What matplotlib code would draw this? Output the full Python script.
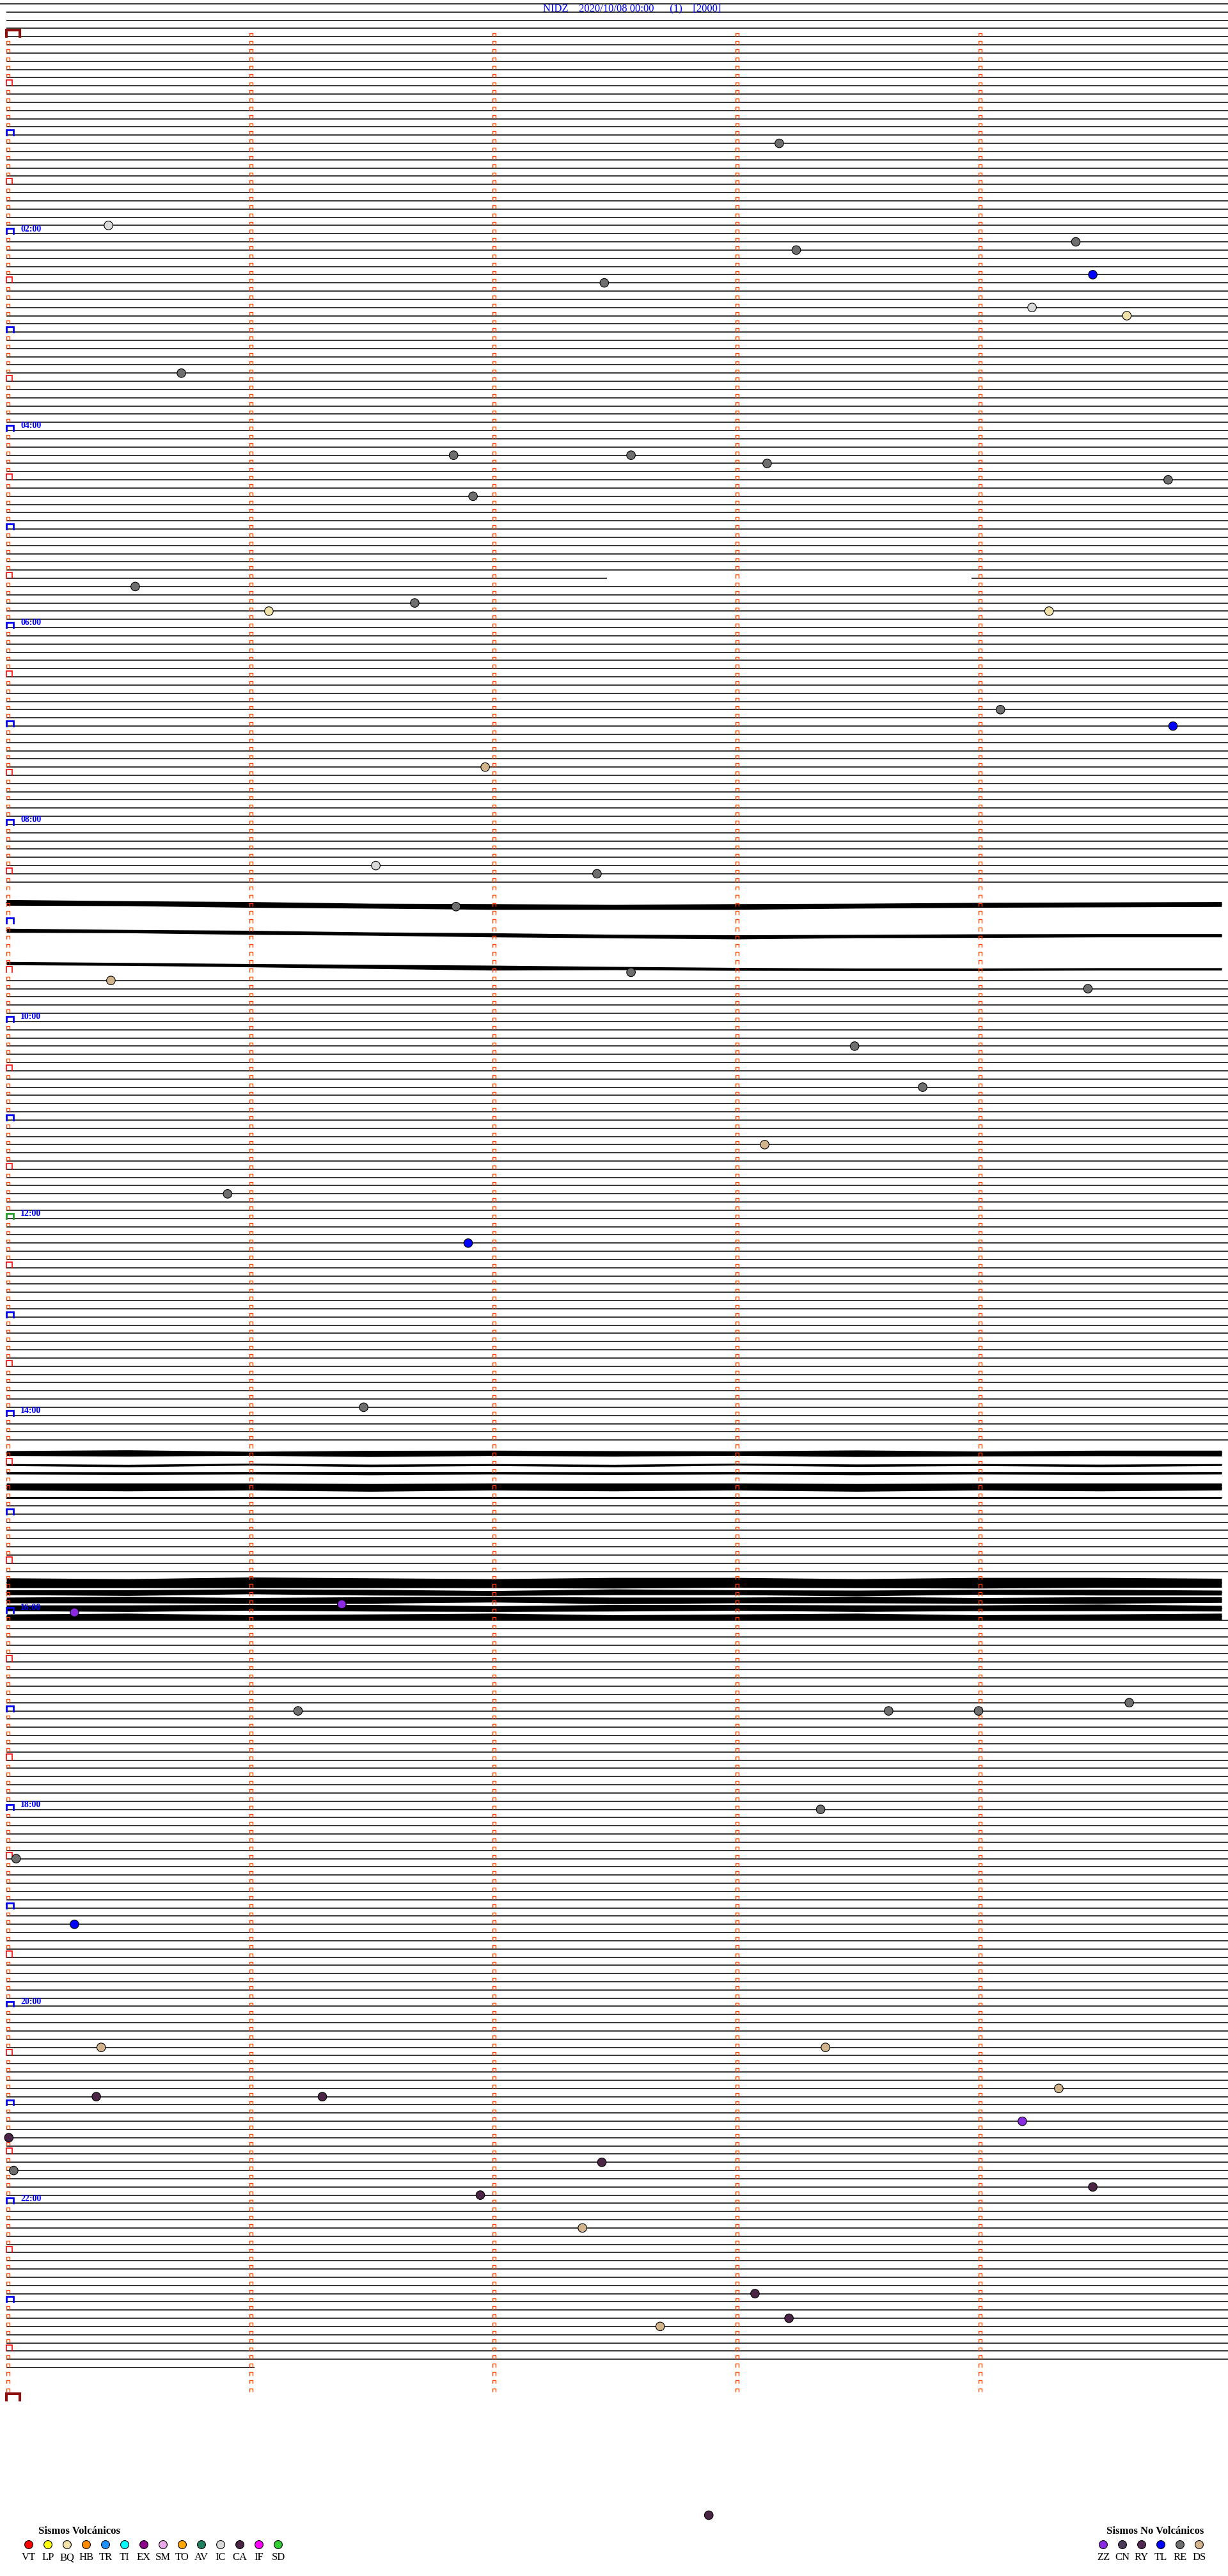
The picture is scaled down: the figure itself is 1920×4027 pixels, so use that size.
import numpy as np
import matplotlib
matplotlib.use("Agg")
import matplotlib.pyplot as plt
from matplotlib.collections import LineCollection

W, H, DPI = 1920, 4027, 100

# helicorder layout: 5 minutes per row, 288 rows per day
MIN_PER_ROW = 5
N_ROWS = 288
X0_PX, PX_PER_MIN = 10, 380
Y0_PX, PX_PER_ROW = 57.3, 12.83

title = "NIDZ    2020/10/08 00:00      (1)    [2000]"

# rows of the previous record still visible at the top
pre_rows = [-4, -3, -2, -1]
# last sample of the day (minutes after 00:00)
data_end = 1421.02
# gaps in the record (start, end) in minutes
gaps = [(332.47, 333.97)]

# noisy rows: offset of the trace centre and half amplitude (rows) at these knots
knots = [0, 0.5, 1, 1.5, 2, 2.5, 3, 3.5, 4, 4.5, 5]
noisy_rows = [105, 109, 113,
              172, 173, 174, 175, 176, 177, 178,
              188, 189, 190, 191, 192]
noisy_center = [
    [0.5, 0.6, 0.75, 0.9, 1.0, 1.05, 1.0, 0.9, 0.8, 0.75, 0.7],
    [-0.1, 0.0, 0.15, 0.3, 0.45, 0.6, 0.7, 0.6, 0.55, 0.5, 0.5],
    [-0.1, 0.0, 0.15, 0.3, 0.45, 0.5, 0.6, 0.65, 0.65, 0.6, 0.6],
    [0.55, 0.5, 0.6, 0.55, 0.5, 0.6, 0.55, 0.5, 0.6, 0.55, 0.5],
    [-0.3, -0.25, -0.3, -0.2, -0.3, -0.25, -0.3, -0.2, -0.25, -0.3, -0.25],
    [0.0, 0.12, -0.05, 0.1, 0.0, 0.12, -0.05, 0.08, 0.0, 0.1, 0.0],
    [0.0, 0.05, 0.0, 0.05, 0.0, 0.05, 0.0, 0.05, 0.0, 0.05, 0.0],
    [0.5, 0.55, 0.5, 0.6, 0.5, 0.55, 0.5, 0.6, 0.5, 0.55, 0.5],
    [-0.1, -0.05, -0.1, 0.0, -0.1, -0.05, -0.1, 0.0, -0.1, -0.05, -0.1],
    [0.0, 0.0, 0.0, 0.0, 0.0, 0.0, 0.0, 0.0, 0.0, 0.0, 0.0],
    [0.4, 0.45, 0.35, 0.4, 0.45, 0.4, 0.35, 0.45, 0.4, 0.35, 0.4],
    [0.55, 0.6, 0.45, 0.55, 0.65, 0.5, 0.55, 0.65, 0.5, 0.55, 0.6],
    [0.5, 0.45, 0.55, 0.5, 0.4, 0.55, 0.5, 0.45, 0.55, 0.5, 0.45],
    [0.45, 0.5, 0.4, 0.45, 0.55, 0.45, 0.4, 0.5, 0.45, 0.4, 0.5],
    [0.55, 0.5, 0.6, 0.55, 0.5, 0.6, 0.55, 0.5, 0.6, 0.55, 0.5],
]
noisy_half = [
    [0.35, 0.3, 0.35, 0.3, 0.35, 0.3, 0.35, 0.3, 0.3, 0.3, 0.3],
    [0.25, 0.2, 0.25, 0.2, 0.25, 0.22, 0.25, 0.2, 0.22, 0.2, 0.2],
    [0.2, 0.18, 0.2, 0.25, 0.3, 0.2, 0.18, 0.15, 0.15, 0.15, 0.15],
    [0.25, 0.3, 0.22, 0.28, 0.25, 0.3, 0.22, 0.28, 0.25, 0.3, 0.25],
    [0.2, 0.22, 0.18, 0.22, 0.2, 0.22, 0.18, 0.22, 0.2, 0.22, 0.2],
    [0.12, 0.15, 0.12, 0.15, 0.12, 0.15, 0.12, 0.15, 0.12, 0.15, 0.12],
    [0.15, 0.18, 0.15, 0.2, 0.15, 0.18, 0.15, 0.2, 0.15, 0.18, 0.15],
    [0.25, 0.3, 0.25, 0.3, 0.25, 0.3, 0.25, 0.3, 0.25, 0.3, 0.25],
    [0.2, 0.25, 0.2, 0.25, 0.2, 0.25, 0.2, 0.25, 0.2, 0.25, 0.2],
    [0.12, 0.12, 0.12, 0.12, 0.12, 0.12, 0.12, 0.12, 0.12, 0.12, 0.12],
    [0.6, 0.55, 0.65, 0.6, 0.55, 0.65, 0.6, 0.55, 0.65, 0.6, 0.55],
    [0.3, 0.35, 0.3, 0.35, 0.3, 0.35, 0.3, 0.35, 0.3, 0.35, 0.3],
    [0.35, 0.4, 0.35, 0.4, 0.35, 0.4, 0.35, 0.4, 0.35, 0.4, 0.35],
    [0.35, 0.4, 0.35, 0.4, 0.35, 0.4, 0.35, 0.4, 0.35, 0.4, 0.35],
    [0.35, 0.4, 0.3, 0.35, 0.4, 0.3, 0.35, 0.4, 0.3, 0.35, 0.4],
]
# rows whose trace is pushed out of view
hidden_rows = [104, 106, 107, 108, 110, 111, 112, 114]

# event classes
volc_codes = ["VT", "LP", "BQ", "HB", "TR", "TI", "EX", "SM", "TO", "AV", "IC", "CA", "IF", "SD"]
volc_colors = ["#FF0000", "#FFFF00", "#F0E2A8", "#FF8C00", "#1E90FF", "#00FFFF", "#8B008B",
               "#E8A8E8", "#FFA500", "#1E7F5F", "#D9D9D9", "#4A2545", "#FF00FF", "#32CD32"]
nonv_codes = ["ZZ", "CN", "RY", "TL", "RE", "DS"]
nonv_colors = ["#8A2BE2", "#4B3A5A", "#502A50", "#0000FF", "#6E6E6E", "#D2B48C"]

# picked events: minutes after 00:00 and class
event_min = [68.18, 115.42, 129.40, 133.25, 149.47, 152.46, 169.22, 174.61, 205.72, 256.84,
             257.57, 263.13, 274.78, 281.92, 335.53, 346.68, 351.08, 354.29, 414.09, 424.80,
             446.97, 506.52, 512.43, 531.85, 572.57, 575.43, 584.45, 618.49, 643.77, 678.12,
             705.91, 736.90, 836.47, 956.38, 960.28, 1019.62, 1021.20, 1023.63, 1024.00, 1083.35,
             1110.04, 1150.28, 1225.39, 1228.37, 1254.33, 1255.37, 1256.30, 1274.18, 1280.01, 1297.45,
             1300.03, 1314.47, 1316.95, 1337.37, 1378.08, 1393.22, 1397.69, 1512.89]
event_type = ["RE", "IC", "RE", "RE", "TL", "RE", "IC", "BQ", "RE", "RE",
              "RE", "RE", "RE", "RE", "RE", "RE", "BQ", "BQ", "RE", "TL",
              "DS", "IC", "RE", "RE", "RE", "DS", "RE", "RE", "RE", "DS",
              "RE", "TL", "RE", "ZZ", "ZZ", "RE", "RE", "RE", "RE", "RE",
              "RE", "TL", "DS", "DS", "DS", "CA", "CA", "ZZ", "CA", "CA",
              "RE", "CA", "CA", "DS", "CA", "CA", "DS", "CA"]

color_of = dict(zip(volc_codes + nonv_codes, volc_colors + nonv_colors))

fig = plt.figure(figsize=(W / DPI, H / DPI), dpi=DPI)
ax = fig.add_axes([0, 0, 1, 1])
ax.set_xlim(-X0_PX / PX_PER_MIN, (W - X0_PX) / PX_PER_MIN)
ax.set_ylim((H - Y0_PX) / PX_PER_ROW, -Y0_PX / PX_PER_ROW)
ax.axis("off")
xmin, xmax = ax.get_xlim()
serif = ["Liberation Serif", "DejaVu Serif"]

# flat traces
segs = []
for k in pre_rows:
    segs.append([(xmin if k == pre_rows[0] else 0, k), (xmax, k)])
for k in range(N_ROWS):
    if k in noisy_rows or k in hidden_rows:
        continue
    t0 = k * MIN_PER_ROW
    if t0 >= data_end:
        break
    pieces = [(t0, min(t0 + xmax, data_end))]
    for g0, g1 in gaps:
        out = []
        for a, b in pieces:
            if g1 <= a or g0 >= b:
                out.append((a, b))
            else:
                if g0 > a:
                    out.append((a, g0))
                if g1 < b:
                    out.append((g1, b))
        pieces = out
    for a, b in pieces:
        segs.append([(a - t0, k), (b - t0, k)])
ax.add_collection(LineCollection(segs, colors="black", linewidths=1.1))

# noisy traces
for k, c, h in zip(noisy_rows, noisy_center, noisy_half):
    c = np.array(c)
    h = np.array(h)
    ax.fill_between(knots, k + c - h, k + c + h, color="black", lw=0)
    ax.plot(knots, k + c, color="black", lw=1.0)

# minute ticks on every row
tick_segs = []
for k in range(N_ROWS):
    for m in range(MIN_PER_ROW):
        if m == 0 and (k % 6 == 0):
            continue
        x0, x1 = m, m + 5 / PX_PER_MIN
        tick_segs.append([(x0, k - 0.02), (x0, k - 0.45), (x1, k - 0.45), (x1, k - 0.02)])
ax.add_collection(LineCollection(tick_segs, colors="#FF4500", linewidths=1.0, zorder=3))

# half-hour, hour and day marks
for k in range(0, N_ROWS + 1, 6):
    if k % N_ROWS == 0:
        col, lw, w, hgt = "#8B1010", 3.0, 21, 0.78
    elif k == 144:
        col, lw, w, hgt = "#20A020", 2.0, 11, 0.62
    elif k % 12 == 0:
        col, lw, w, hgt = "#0000FF", 2.0, 11, 0.62
    else:
        col, lw, w, hgt = "#FF0000", 1.2, 9, 0.72
    x0, x1 = 0, w / PX_PER_MIN
    ax.plot([x0, x0, x1, x1], [k, k - hgt, k - hgt, k], color=col, lw=lw,
            solid_joinstyle="miter", zorder=4)
    if k % 24 == 0 and 0 < k < N_ROWS:
        ax.text(22 / PX_PER_MIN, k - 0.05, "%02d:00" % (k // 12), color="#0000FF",
                fontsize=10, fontweight="bold", family=serif, va="bottom", ha="left", zorder=4)

# events
ev_k = [int(t // MIN_PER_ROW) for t in event_min]
ev_m = [t - MIN_PER_ROW * kk for t, kk in zip(event_min, ev_k)]
ax.scatter(ev_m, ev_k, s=95, c=[color_of[e] for e in event_type],
           edgecolors="black", linewidths=0.8, zorder=5)

# title
fig.text(988 / W, 1 - 13 / H, title, color="#0000FF", fontsize=12, family=serif,
         ha="center", va="center")

# legends
lax = fig.add_axes([0, 0, 1, 1], facecolor="none")
lax.set_xlim(0, W)
lax.set_ylim(H, 0)
lax.axis("off")
for codes, colors, x_start, head, head_x in [
        (volc_codes, volc_colors, 45, "Sismos Volcánicos", 124),
        (nonv_codes, nonv_colors, 1725, "Sismos No Volcánicos", 1806)]:
    xs = [x_start + 30 * i for i in range(len(codes))]
    lax.scatter(xs, [3978] * len(xs), s=85, c=colors, edgecolors="black", linewidths=0.8)
    for x, code in zip(xs, codes):
        lax.text(x, 3998, code, fontsize=12, family=serif, ha="center", va="center")
    lax.text(head_x, 3957, head, fontsize=12, fontweight="bold", family=serif,
             ha="center", va="center")

fig.savefig("out.png", dpi=DPI)
